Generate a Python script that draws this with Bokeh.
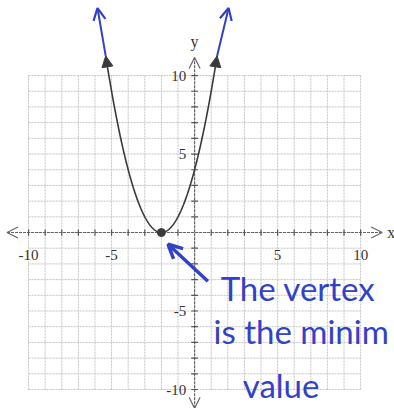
import numpy as np
from bokeh.plotting import figure
from bokeh.models import Range1d, Arrow, OpenHead, NormalHead
from bokeh.core.properties import value
from bokeh.embed import file_html
from bokeh.resources import INLINE

# Parabola y = a * (x - h)^2 + k, drawn up to y = curve_top on both branches
vertex_h = -2
vertex_k = 0
coef_a = 1
curve_top = 11.25

# Graph-paper grid and axis ticks
grid_values = list(range(-10, 11))
x_tick_values = [-10, -5, 5, 10]
x_tick_labels = ["-10", "-5", "5", "10"]
y_tick_values = [-10, -5, 5, 10]
y_tick_labels = ["-10", "-5", "5", "10"]

# Hand-drawn continuation of the two branches (tips)
ext_tip_x = [-5.85, 2.05]
ext_tip_y = [14.3, 14.3]

# Handwritten note
note_lines = ["The vertex", "is the minim", "value"]

INK = "#3a3a3a"
BLUE = "#3242c8"
GRID = "#c4c4c4"

p = figure(width=394, height=408, output_backend="svg", toolbar_location=None,
           x_range=Range1d(-11.69, 12.04), y_range=Range1d(-11.21, 14.78),
           x_axis_type=None, y_axis_type=None, min_border=0)
p.outline_line_color = None
p.background_fill_color = "white"

# grid lines every unit
lo, hi = grid_values[0], grid_values[-1]
p.segment(x0=grid_values, y0=[lo] * len(grid_values), x1=grid_values, y1=[hi] * len(grid_values),
          line_color=GRID, line_width=1, line_dash="2 1")
p.segment(x0=[lo] * len(grid_values), y0=grid_values, x1=[hi] * len(grid_values), y1=grid_values,
          line_color=GRID, line_width=1, line_dash="2 1")

# axes with open arrowheads
ax_ext = 11.3
p.segment(x0=[-ax_ext, 0], y0=[0, -11.2], x1=[ax_ext, 0], y1=[0, 11.15],
          line_color="#666666", line_width=1.2, line_dash="3 1")
for xs, ys, xe, ye in [(-10, 0, -ax_ext, 0), (10, 0, ax_ext, 0), (0, 10, 0, 11.15), (0, -10, 0, -11.2)]:
    p.add_layout(Arrow(end=OpenHead(size=11, line_color="#666666", line_width=1.2),
                       x_start=xs, y_start=ys, x_end=xe, y_end=ye, line_alpha=0))

# tick marks
nz = [v for v in grid_values if v != 0]
p.segment(x0=nz, y0=[-0.2] * len(nz), x1=nz, y1=[0.2] * len(nz), line_color="#555555", line_width=1.2)
p.segment(x0=[-0.2] * len(nz), y0=nz, x1=[0.2] * len(nz), y1=nz, line_color="#555555", line_width=1.2)

# tick labels
p.text(x=x_tick_values, y=[-1.45] * 4, text=x_tick_labels, text_align="center", text_baseline="middle",
       text_font=value("Liberation Serif"), text_font_size="15px", text_color="#333333")
p.text(x=[-0.5] * 4, y=y_tick_values, text=y_tick_labels, text_align="right", text_baseline="middle",
       text_font=value("Liberation Serif"), text_font_size="15px", text_color="#333333")
p.text(x=[11.85, 0], y=[0, 12.15], text=["x", "y"], text_align="center", text_baseline="middle",
       text_font=value("Liberation Serif"), text_font_size="16px", text_color="#333333")

# the parabola
half = np.sqrt((curve_top - vertex_k) / coef_a)
xs = np.linspace(vertex_h - half, vertex_h + half, 300)
ys = coef_a * (xs - vertex_h) ** 2 + vertex_k
p.line(xs, ys, line_color=INK, line_width=1.6)
for sign in (-1, 1):
    x_end = vertex_h + sign * half
    x_mid = vertex_h + sign * np.sqrt((curve_top - 1 - vertex_k) / coef_a)
    p.add_layout(Arrow(end=NormalHead(size=11, fill_color=INK, line_color=INK),
                       x_start=x_mid, y_start=curve_top - 1, x_end=x_end, y_end=curve_top,
                       line_alpha=0))
p.scatter([vertex_h], [vertex_k], size=8, color=INK)

# blue hand-drawn extensions
for i, sign in enumerate((-1, 1)):
    p.add_layout(Arrow(end=OpenHead(size=12, line_color=BLUE, line_width=2.2),
                       x_start=vertex_h + sign * half, y_start=curve_top,
                       x_end=ext_tip_x[i], y_end=ext_tip_y[i],
                       line_color=BLUE, line_width=2))

# pointer to the vertex
p.add_layout(Arrow(end=OpenHead(size=14, line_color=BLUE, line_width=3.5),
                   x_start=0.8, y_start=-3.1, x_end=-1.6, y_end=-0.75,
                   line_color=BLUE, line_width=3.5))

p.text(x=[1.57, 1.14, 2.9], y=[-3.55, -6.3, -9.7], text=note_lines,
       text_font=value("Lato"), text_font_size="33px", text_color=BLUE,
       text_baseline="middle", text_align="left")

open("out.html", "w").write(file_html(p, INLINE))
